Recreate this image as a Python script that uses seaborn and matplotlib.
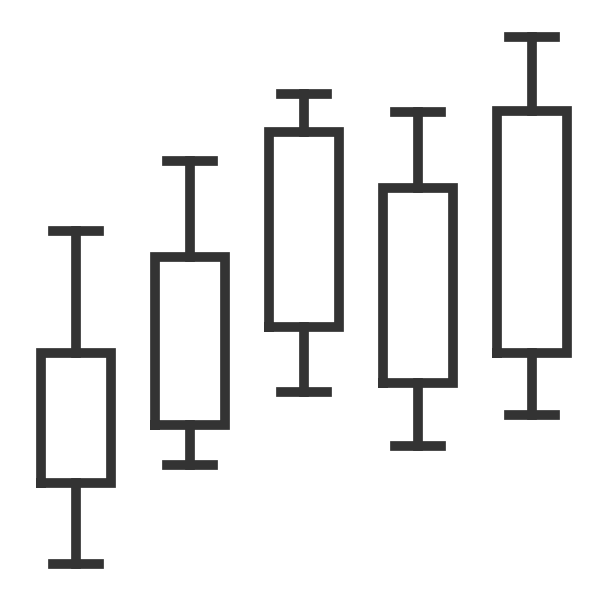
import numpy as np
import pandas as pd
import seaborn as sns
import matplotlib.pyplot as plt

# five boxes, values (height units, 0 = bottom)
groups = ["A", "B", "C", "D", "E"]
whisker_low = [38, 137, 210, 156, 187]
q1 = [119, 177, 275, 219, 249]
median = [184, 261, 372, 316, 370]
q3 = [249, 345, 470, 414, 491]
whisker_high = [371, 441, 508, 490, 565]

rows = []
for g, lo, a, m, b, hi in zip(groups, whisker_low, q1, median, q3, whisker_high):
    for v in (lo, a, m, b, hi):
        rows.append({"group": g, "value": v})
df = pd.DataFrame(rows)

sns.set_style("white")
fig = plt.figure(figsize=(6.03, 6.02), dpi=100)
ax = fig.add_axes([0, 0, 1, 1])

col = "#333333"
lw = 7.0
sns.boxplot(data=df, x="group", y="value", whis=(0, 100), width=0.61,
            fill=False, color=col, linewidth=lw, showfliers=False, ax=ax,
            medianprops={"visible": False},
            boxprops={"color": col, "linewidth": lw},
            whiskerprops={"color": col, "linewidth": lw},
            capprops={"color": col, "linewidth": lw})

# square line ends, caps a bit narrower than the boxes
for ln in ax.lines:
    ln.set_solid_capstyle("projecting")
    ln.set_solid_joinstyle("miter")
    xs = ln.get_xdata()
    if len(xs) == 2 and xs[0] != xs[1]:
        c = (xs[0] + xs[1]) / 2
        ln.set_xdata([c - 0.205, c + 0.205])

ax.set_xlim(-0.667, 4.623)
ax.set_ylim(0, 602)
ax.axis("off")
fig.savefig("out.png", dpi=100, facecolor="white")
